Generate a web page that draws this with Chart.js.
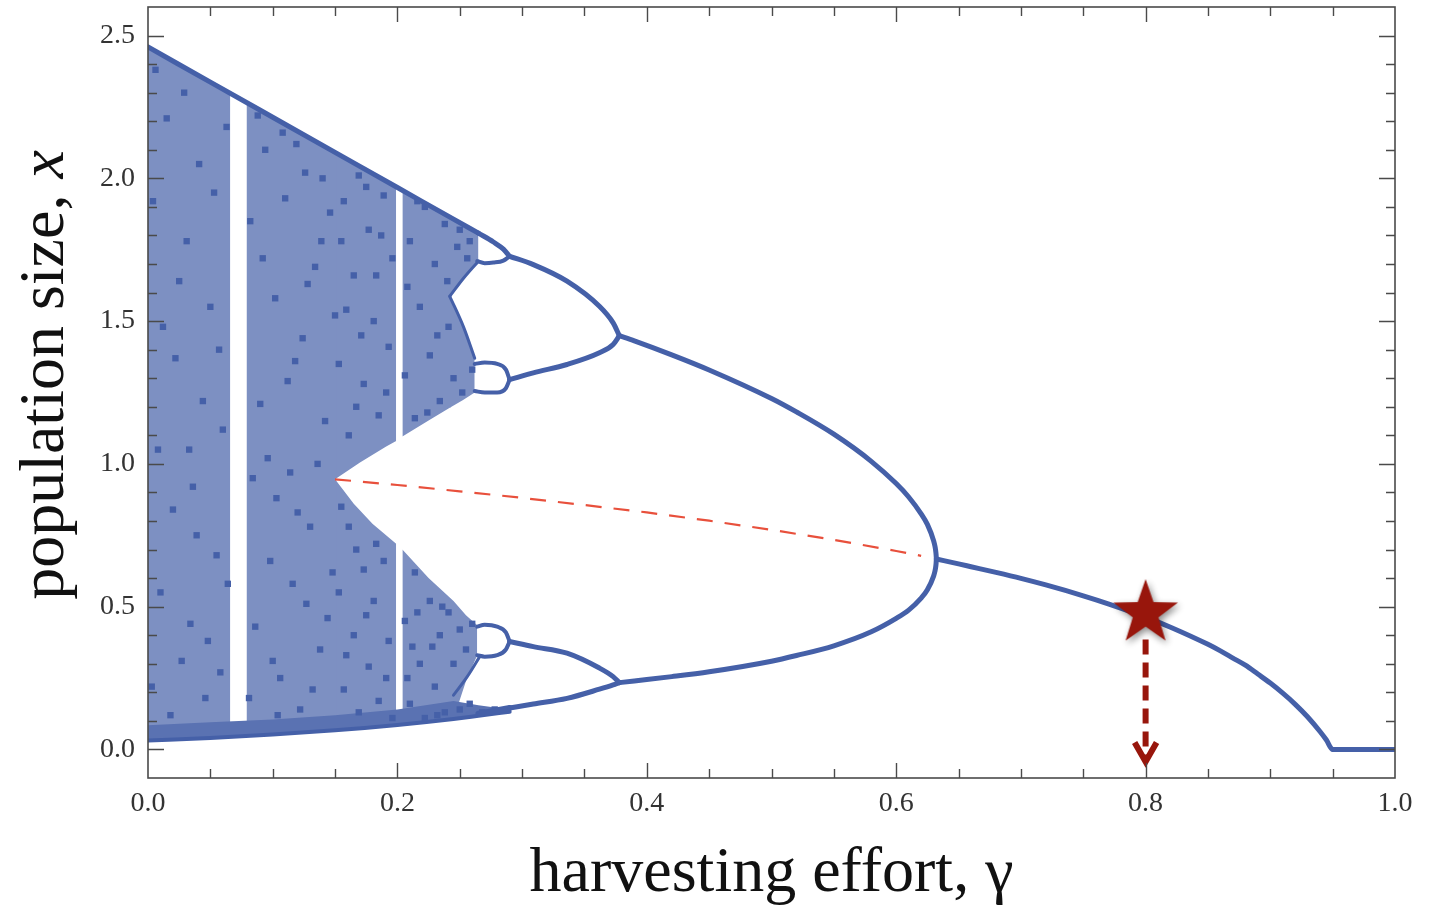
<!DOCTYPE html>
<html>
<head>
<meta charset="utf-8">
<script src="https://cdn.jsdelivr.net/npm/chart.js"></script>
<style>
html,body{margin:0;padding:0;background:#fff;}
canvas{display:block;}
</style>
</head>
<body>
<canvas id="c" width="1429" height="914"></canvas>
<script>
// ---------------- data ----------------
const xTickLabels = ['0.0', '0.2', '0.4', '0.6', '0.8', '1.0'];
const yTickLabels = ['0.0', '0.5', '1.0', '1.5', '2.0', '2.5'];
const xTitle = 'harvesting effort, γ';
const yTitleMain = 'population size, ';
const yTitleVar = 'x';

// envelope of the chaotic region
const gammaEnv = [0, 0.05, 0.1, 0.15, 0.2, 0.245, 0.265, 0.29];
const upperEnv = [2.46, 2.337, 2.214, 2.091, 1.968, 1.857, 1.808, 1.747];
const lowerEnv = [0.031, 0.040, 0.052, 0.067, 0.086, 0.107, 0.118, 0.132];
const denseBottomTop = [0.085, 0.095, 0.105, 0.12, 0.14, 0.17, 0.155, 0.14];

// chaotic bands (gamma, lower edge, upper edge)
const bandAGamma = [0, 0.033, 0.066];
const bandALow = [0.031, 0.036, 0.044];
const bandAHigh = [2.46, 2.379, 2.298];
const bandBGamma = [0.079, 0.1, 0.125, 0.151];
const bandBLow = [0.047, 0.052, 0.059, 0.067];
const bandBHigh = [2.266, 2.214, 2.153, 2.089];
const bandCUpGamma = [0.15, 0.17, 0.191, 0.199];
const bandCUpLow = [0.946, 1.005, 1.061, 1.08];
const bandCUpHigh = [2.091, 2.042, 1.990, 1.971];
const bandCLoGamma = [0.15, 0.165, 0.18, 0.199];
const bandCLoLow = [0.067, 0.072, 0.077, 0.086];
const bandCLoHigh = [0.946, 0.86, 0.79, 0.72];
const bandDUpGamma = [0.204, 0.226, 0.243];
const bandDUpLow = [1.096, 1.155, 1.199];
const bandDUpHigh = [1.958, 1.904, 1.862];
const lobeTopGamma = [0.242, 0.253, 0.265];
const lobeTopLow = [1.587, 1.65, 1.71];
const lobeTopHigh = [1.865, 1.838, 1.808];
const lobeBotGamma = [0.242, 0.253, 0.262];
const lobeBotLow = [1.197, 1.225, 1.25];
const lobeBotHigh = [1.587, 1.48, 1.37];
const bandDLoGamma = [0.204, 0.225, 0.245, 0.255, 0.264];
const bandDLoLow = [0.088, 0.097, 0.107, 0.24, 0.33];
const bandDLoHigh = [0.70, 0.60, 0.52, 0.47, 0.435];
const holeEdgeGamma = [0.245, 0.256, 0.266];
const holeEdgeX = [0.19, 0.255, 0.325];

// scattered iterates in the chaotic region
const chaosGamma = [
 0.004,0.010,0.015,0.022,0.027,0.031,0.036,0.041,0.046,0.050,0.055,0.060,0.063,0.008,0.018,
 0.025,0.034,0.044,0.053,0.058,0.012,0.029,0.039,0.048,0.003,0.020,0.057,0.064,0.006,0.033,
 0.082,0.086,0.090,0.094,0.098,0.102,0.106,0.110,0.114,0.118,0.122,0.126,0.130,0.134,0.138,
 0.142,0.146,0.084,0.092,0.100,0.108,0.116,0.124,0.132,0.140,0.148,0.088,0.096,0.104,0.112,
 0.120,0.128,0.136,0.144,0.150,0.081,0.119,0.127,0.139,0.103,
 0.153,0.157,0.161,0.165,0.169,0.173,0.177,0.181,0.185,0.189,0.193,0.196,0.159,0.167,0.175,
 0.183,0.191,0.155,0.171,0.187,
 0.153,0.157,0.161,0.165,0.169,0.173,0.177,0.181,0.185,0.189,0.193,0.196,0.159,0.167,0.175,
 0.183,0.191,0.155,
 0.206,0.210,0.214,0.218,0.222,0.226,0.230,0.234,0.238,0.241,0.245,0.248,0.252,0.256,0.260,
 0.208,0.216,0.224,0.232,0.240,0.250,0.258,
 0.206,0.210,0.214,0.218,0.222,0.226,0.230,0.234,0.238,0.241,0.245,0.250,0.255,0.260,0.208,
 0.216,0.228,0.236,0.212,0.232,
 0.250,0.258,0.268,0.278
];
const chaosX = [
 1.92,0.55,2.21,1.37,0.31,1.78,0.92,2.05,0.18,1.55,0.68,1.12,2.18,1.05,0.12,
 1.64,0.44,1.22,1.95,0.27,1.48,2.30,0.75,0.38,0.22,0.84,1.40,0.58,2.38,1.05,
 1.85,0.43,1.21,2.10,0.66,1.58,0.25,1.93,0.97,1.36,0.14,2.02,0.78,1.69,0.35,
 1.15,1.88,0.95,1.72,0.31,2.16,0.58,1.44,0.21,2.00,0.62,2.22,1.02,0.12,1.29,
 0.83,1.63,1.00,0.46,1.52,0.18,2.12,0.51,1.78,0.88,
 1.35,1.92,1.10,1.66,2.01,1.28,1.82,1.50,1.17,1.94,1.41,1.72,1.54,1.20,1.97,
 1.66,1.25,1.78,1.45,1.80,
 0.55,0.21,0.78,0.40,0.13,0.63,0.29,0.52,0.17,0.66,0.38,0.11,0.33,0.70,0.47,
 0.72,0.25,0.85,
 1.31,1.78,1.16,1.55,1.90,1.38,1.70,1.22,1.84,1.48,1.30,1.76,1.25,1.72,1.33,
 1.62,1.92,1.18,1.45,1.64,1.82,1.78,
 0.45,0.16,0.62,0.30,0.11,0.52,0.22,0.40,0.13,0.48,0.30,0.42,0.35,0.44,0.25,
 0.48,0.36,0.50,0.36,0.12,
 0.14,0.16,0.13,0.14
];

// period-8 loops near gamma = 0.27-0.29
const loopUUtopGamma = [0.265, 0.277, 0.285, 0.29];
const loopUUtopX = [1.808, 1.777, 1.752, 1.727];
const loopUUbotGamma = [0.264, 0.270, 0.277, 0.285, 0.29];
const loopUUbotX = [1.71, 1.703, 1.705, 1.712, 1.727];
const loopULtopGamma = [0.262, 0.270, 0.280, 0.287, 0.29];
const loopULtopX = [1.35, 1.355, 1.35, 1.33, 1.295];
const loopULbotGamma = [0.262, 0.270, 0.280, 0.287, 0.29];
const loopULbotX = [1.255, 1.25, 1.25, 1.265, 1.295];
const loopLUtopGamma = [0.264, 0.270, 0.280, 0.287, 0.29];
const loopLUtopX = [0.43, 0.437, 0.43, 0.41, 0.378];
const loopLUbotGamma = [0.264, 0.270, 0.280, 0.287, 0.29];
const loopLUbotX = [0.33, 0.325, 0.33, 0.35, 0.378];

// period-4 branches
const p4Gamma = [0.29, 0.309, 0.336, 0.362, 0.373, 0.378];
const p4UU = [1.727, 1.698, 1.640, 1.552, 1.494, 1.449];
const p4UL = [1.295, 1.319, 1.348, 1.389, 1.418, 1.449];
const p4LU = [0.378, 0.360, 0.337, 0.285, 0.255, 0.234];
const p4LL = [0.145, 0.159, 0.179, 0.211, 0.226, 0.234];
const p4LLtailGamma = [0.265, 0.29];
const p4LLtailX = [0.125, 0.145];

// period-2 branches
const p2Gamma = [0.378, 0.39, 0.42, 0.45, 0.5, 0.52, 0.55, 0.58, 0.6, 0.61, 0.62, 0.625, 0.63, 0.631, 0.6315, 0.632, 0.6322];
const p2Upper = [1.449, 1.431, 1.382, 1.329, 1.229, 1.182, 1.104, 1.009, 0.931, 0.884, 0.825, 0.788, 0.731, 0.713, 0.701, 0.682, 0.667];
const p2Lower = [0.234, 0.240, 0.255, 0.272, 0.309, 0.329, 0.363, 0.412, 0.459, 0.488, 0.530, 0.559, 0.607, 0.623, 0.634, 0.652, 0.667];

// stable fixed point
const fixedGamma = [0.6322, 0.65, 0.66, 0.68, 0.7, 0.72, 0.75, 0.77, 0.8, 0.82, 0.85, 0.86, 0.87, 0.88, 0.89, 0.9, 0.91, 0.92, 0.93, 0.94, 0.945, 0.95, 1.0];
const fixedX = [0.667, 0.650, 0.640, 0.620, 0.599, 0.576, 0.538, 0.510, 0.4635, 0.428, 0.368, 0.345, 0.320, 0.295, 0.264, 0.2325, 0.197, 0.158, 0.1136, 0.062, 0.033, 0.0, 0.0];

// unstable fixed point (red dashed)
const unstableGamma = [0.15, 0.2, 0.25, 0.3, 0.35, 0.4, 0.45, 0.5, 0.55, 0.6, 0.62];
const unstableX = [0.946, 0.926, 0.904, 0.881, 0.856, 0.830, 0.801, 0.769, 0.734, 0.695, 0.678];

// marker and arrow
const starPoint = [0.8, 0.4635];
const arrowShaftGamma = [0.8, 0.8];
const arrowShaftX = [0.385, -0.035];
const arrowHeadGamma = [0.7912, 0.8, 0.8088];
const arrowHeadX = [0.024, -0.043, 0.024];

// ---------------- styles ----------------
const BLUE = '#4560a8';
const FILL = '#7d90c2';
const FILL_DENSE = '#5a72b2';
const RED = '#e8503c';
const STAR = '#98160c';
const SERIF = "'Liberation Serif', 'Times New Roman', 'DejaVu Serif', serif";

function pts(xs, ys) { return xs.map((g, i) => ({ x: g, y: ys[i] })); }

const datasets = [];
function addBand(gs, lo, hi, color, ord) {
  const o = ord || 10;
  datasets.push({ data: pts(gs, lo), borderWidth: 0, borderColor: 'rgba(0,0,0,0)', pointRadius: 0, fill: false, order: o });
  datasets.push({ data: pts(gs, hi), borderWidth: 0, borderColor: 'rgba(0,0,0,0)', pointRadius: 0, fill: '-1', backgroundColor: color || FILL, order: o });
}
function addLine(gs, xs, w, extra) {
  datasets.push(Object.assign({ data: pts(gs, xs), borderColor: BLUE, borderWidth: w, pointRadius: 0, fill: false, cubicInterpolationMode: 'monotone', order: 3, borderJoinStyle: 'round', borderCapStyle: 'round' }, extra || {}));
}

addBand(bandAGamma, bandALow, bandAHigh);
addBand(bandBGamma, bandBLow, bandBHigh);
addBand(bandCUpGamma, bandCUpLow, bandCUpHigh);
addBand(bandCLoGamma, bandCLoLow, bandCLoHigh);
addBand(bandDUpGamma, bandDUpLow, bandDUpHigh);
addBand(lobeTopGamma, lobeTopLow, lobeTopHigh);
addBand(lobeBotGamma, lobeBotLow, lobeBotHigh);
addBand(bandDLoGamma, bandDLoLow, bandDLoHigh);
addBand(gammaEnv, lowerEnv, denseBottomTop, FILL_DENSE, 9);

// scatter of iterates
datasets.push({ data: pts(chaosGamma, chaosX), showLine: false, pointRadius: 4.5, pointStyle: 'rect', pointBackgroundColor: BLUE, pointBorderWidth: 0, borderColor: BLUE, order: 4 });

// envelope edges
addLine(gammaEnv.slice(0, 7), upperEnv.slice(0, 7), 5, { order: 5 });
addLine(gammaEnv, lowerEnv, 4, { order: 5 });
addLine(lobeTopGamma, lobeTopLow, 3, { order: 5 });
addLine(lobeBotGamma, lobeBotHigh, 3, { order: 5 });
addLine(holeEdgeGamma, holeEdgeX, 3, { order: 5 });

// period-8 loops
addLine(loopUUtopGamma, loopUUtopX, 5);
addLine(loopUUbotGamma, loopUUbotX, 4);
addLine(loopULtopGamma, loopULtopX, 4);
addLine(loopULbotGamma, loopULbotX, 4);
addLine(loopLUtopGamma, loopLUtopX, 4);
addLine(loopLUbotGamma, loopLUbotX, 4);
// period-4
addLine(p4Gamma, p4UU, 5);
addLine(p4Gamma, p4UL, 5);
addLine(p4Gamma, p4LU, 5);
addLine(p4Gamma, p4LL, 5);
addLine(p4LLtailGamma, p4LLtailX, 6);
// period-2
addLine(p2Gamma, p2Upper, 5);
addLine(p2Gamma, p2Lower, 5);
// fixed point
addLine(fixedGamma, fixedX, 5);

// unstable branch
datasets.push({ data: pts(unstableGamma, unstableX), borderColor: RED, borderWidth: 2.2, borderDash: [16, 12], pointRadius: 0, fill: false, tension: 0, order: 2 });

// arrow
datasets.push({ data: pts(arrowShaftGamma, arrowShaftX), borderColor: STAR, borderWidth: 6, borderDash: [15, 8], borderCapStyle: 'butt', pointRadius: 0, fill: false, order: 1 });
datasets.push({ data: pts(arrowHeadGamma, arrowHeadX), borderColor: STAR, borderWidth: 6, borderJoinStyle: 'miter', borderCapStyle: 'butt', pointRadius: 0, fill: false, order: 1 });

// star marker image
function makeStar() {
  const c = document.createElement('canvas');
  c.width = 96; c.height = 96;
  const g = c.getContext('2d');
  const cx = 48, cy = 44, R = 34, r = 13.5;
  g.shadowColor = 'rgba(0,0,0,0.45)';
  g.shadowBlur = 7; g.shadowOffsetX = 2; g.shadowOffsetY = 3;
  g.beginPath();
  for (let i = 0; i < 10; i++) {
    const a = -Math.PI / 2 + i * Math.PI / 5;
    const rad = i % 2 === 0 ? R : r;
    g.lineTo(cx + rad * Math.cos(a), cy + rad * Math.sin(a));
  }
  g.closePath();
  g.fillStyle = STAR;
  g.fill();
  return c;
}
datasets.push({ data: [{ x: starPoint[0], y: starPoint[1] }], showLine: false, pointStyle: makeStar(), pointRadius: 30, order: 0 });

// ---------------- frame, inward ticks, y title ----------------
const frameTicks = {
  id: 'frameTicks',
  afterDraw(chart) {
    const { ctx, chartArea: a, scales: { x, y } } = chart;
    ctx.save();
    ctx.strokeStyle = '#4a4a4a';
    ctx.lineWidth = 1.4;
    ctx.beginPath();
    x.ticks.forEach(t => {
      if (t.value <= 0.001 || t.value >= 0.999) return;
      const px = Math.round(x.getPixelForValue(t.value)) + 0.5;
      const L = t.label ? 15 : 9;
      ctx.moveTo(px, a.bottom); ctx.lineTo(px, a.bottom - L);
      ctx.moveTo(px, a.top); ctx.lineTo(px, a.top + L);
    });
    y.ticks.forEach(t => {
      if (t.value < -0.05 || t.value > 2.55) return;
      const py = Math.round(y.getPixelForValue(t.value)) + 0.5;
      const L = t.label ? 16 : 9;
      ctx.moveTo(a.left, py); ctx.lineTo(a.left + L, py);
      ctx.moveTo(a.right, py); ctx.lineTo(a.right - L, py);
    });
    ctx.stroke();
    ctx.lineWidth = 1.6;
    ctx.strokeRect(a.left, a.top, a.right - a.left, a.bottom - a.top);

    // y axis title with italic variable
    const fReg = '64px ' + SERIF;
    const fIt = 'italic 64px ' + SERIF;
    ctx.font = fReg;
    const w1 = ctx.measureText(yTitleMain).width;
    ctx.font = fIt;
    const w2 = ctx.measureText(yTitleVar).width;
    const total = w1 + w2;
    ctx.translate(63, 375);
    ctx.rotate(-Math.PI / 2);
    ctx.fillStyle = '#111';
    ctx.textBaseline = 'alphabetic';
    ctx.textAlign = 'left';
    ctx.font = fReg;
    ctx.fillText(yTitleMain, -total / 2, 0);
    ctx.font = fIt;
    ctx.fillText(yTitleVar, -total / 2 + w1, 0);
    ctx.restore();
  }
};

function xLabel(v) {
  const k = Math.round(v * 5);
  if (Math.abs(v * 5 - k) < 1e-6 && k >= 0) return xTickLabels[k] || '';
  return '';
}
function yLabel(v) {
  const k = Math.round(v * 2);
  if (Math.abs(v * 2 - k) < 1e-6 && k >= 0) return yTickLabels[k] || '';
  return '';
}

new Chart(document.getElementById('c'), {
  type: 'line',
  data: { datasets },
  options: {
    responsive: false,
    animation: false,
    events: [],
    devicePixelRatio: 1,
    layout: { autoPadding: false, padding: { top: 7, right: 34, bottom: 0, left: 0 } },
    plugins: { legend: { display: false }, tooltip: { enabled: false } },
    scales: {
      x: {
        type: 'linear', min: 0, max: 1,
        afterFit(s) { s.height = 136; s.paddingLeft = 0; s.paddingRight = 0; },
        grid: { display: false, drawTicks: false },
        border: { display: false },
        ticks: { stepSize: 0.05, autoSkip: false, maxRotation: 0, padding: 9, color: '#333', font: { family: SERIF, size: 28 }, callback: v => xLabel(v) },
        title: { display: true, text: xTitle, color: '#111', font: { family: SERIF, size: 64 }, padding: { top: 0, bottom: 1 } }
      },
      y: {
        type: 'linear', min: -0.1, max: 2.6,
        afterFit(s) { s.width = 148; s.paddingTop = 0; s.paddingBottom = 0; },
        grid: { display: false, drawTicks: false },
        border: { display: false },
        ticks: { stepSize: 0.1, autoSkip: false, padding: 13, color: '#333', font: { family: SERIF, size: 28 }, callback: v => yLabel(v) },
        title: { display: false }
      }
    }
  },
  plugins: [frameTicks]
});
</script>
</body>
</html>
